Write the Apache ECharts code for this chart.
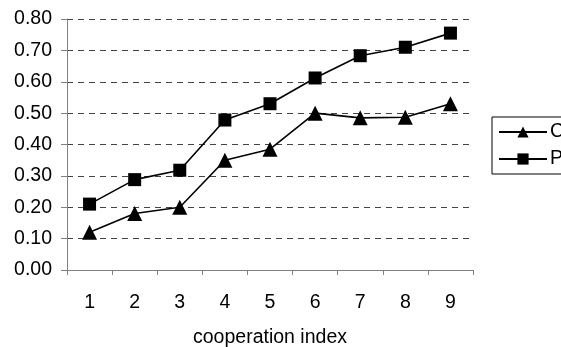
<!DOCTYPE html>
<html>
<head>
<meta charset="utf-8">
<script src="https://cdn.jsdelivr.net/npm/echarts@6/dist/echarts.min.js"></script>
<style>
  html, body { margin: 0; padding: 0; background: #fff; }
  #chart { width: 561px; height: 347px; }
</style>
</head>
<body>
<div id="chart"></div>
<script>
// cooperation index categories
const categories = ['1', '2', '3', '4', '5', '6', '7', '8', '9'];
// series C (triangles) and P (squares)
const seriesC = [0.12, 0.18, 0.20, 0.35, 0.385, 0.50, 0.485, 0.487, 0.53];
const seriesP = [0.21, 0.288, 0.318, 0.478, 0.53, 0.612, 0.683, 0.71, 0.755];
const yTicks = { min: 0, max: 0.8, interval: 0.1 };

const font = 'Liberation Sans, Arial, sans-serif';
const fs = 19.5;
const chart = echarts.init(document.getElementById('chart'), null, { renderer: 'canvas' });

chart.setOption({
  animation: false,
  backgroundColor: '#fff',
  grid: { left: 67, right: 88, top: 19, bottom: 77, containLabel: false, outerBoundsMode: 'none' },
  legend: {
    left: 492, top: 117,
    orient: 'vertical',
    data: ['C', 'P'],
    borderColor: '#000', borderWidth: 1,
    padding: [5, 6, 5, 6],
    itemWidth: 48, itemHeight: 14, itemGap: 7,
    textStyle: { fontFamily: font, fontSize: fs, lineHeight: 20, color: '#000', padding: [0, 0, 0, -2] }
  },
  xAxis: {
    type: 'category',
    data: categories,
    boundaryGap: true,
    name: 'cooperation index',
    nameLocation: 'middle',
    nameGap: 58,
    nameTextStyle: { fontFamily: font, fontSize: fs, color: '#000' },
    axisLine: { lineStyle: { color: '#808080', width: 1 } },
    axisTick: { show: true, alignWithLabel: false, length: 5, lineStyle: { color: '#808080' } },
    axisLabel: { fontFamily: font, fontSize: fs, color: '#000', margin: 23 },
    splitLine: { show: false }
  },
  yAxis: {
    type: 'value',
    min: yTicks.min, max: yTicks.max, interval: yTicks.interval,
    axisLine: { show: true, lineStyle: { color: '#808080', width: 1 } },
    axisTick: { show: true, inside: false, length: 6, lineStyle: { color: '#808080' } },
    axisLabel: {
      fontFamily: font, fontSize: fs, color: '#000', margin: 15,
      formatter: v => v.toFixed(2)
    },
    splitLine: { show: true, lineStyle: { color: '#444', type: [6, 5], width: 1 } }
  },
  series: [
    {
      name: 'C', type: 'line', data: seriesC,
      symbol: 'triangle', symbolSize: 15,
      itemStyle: { color: '#000' },
      lineStyle: { color: '#000', width: 1.6 }
    },
    {
      name: 'P', type: 'line', data: seriesP,
      symbol: 'rect', symbolSize: 13,
      itemStyle: { color: '#000' },
      lineStyle: { color: '#000', width: 1.6 }
    }
  ]
});
</script>
</body>
</html>
